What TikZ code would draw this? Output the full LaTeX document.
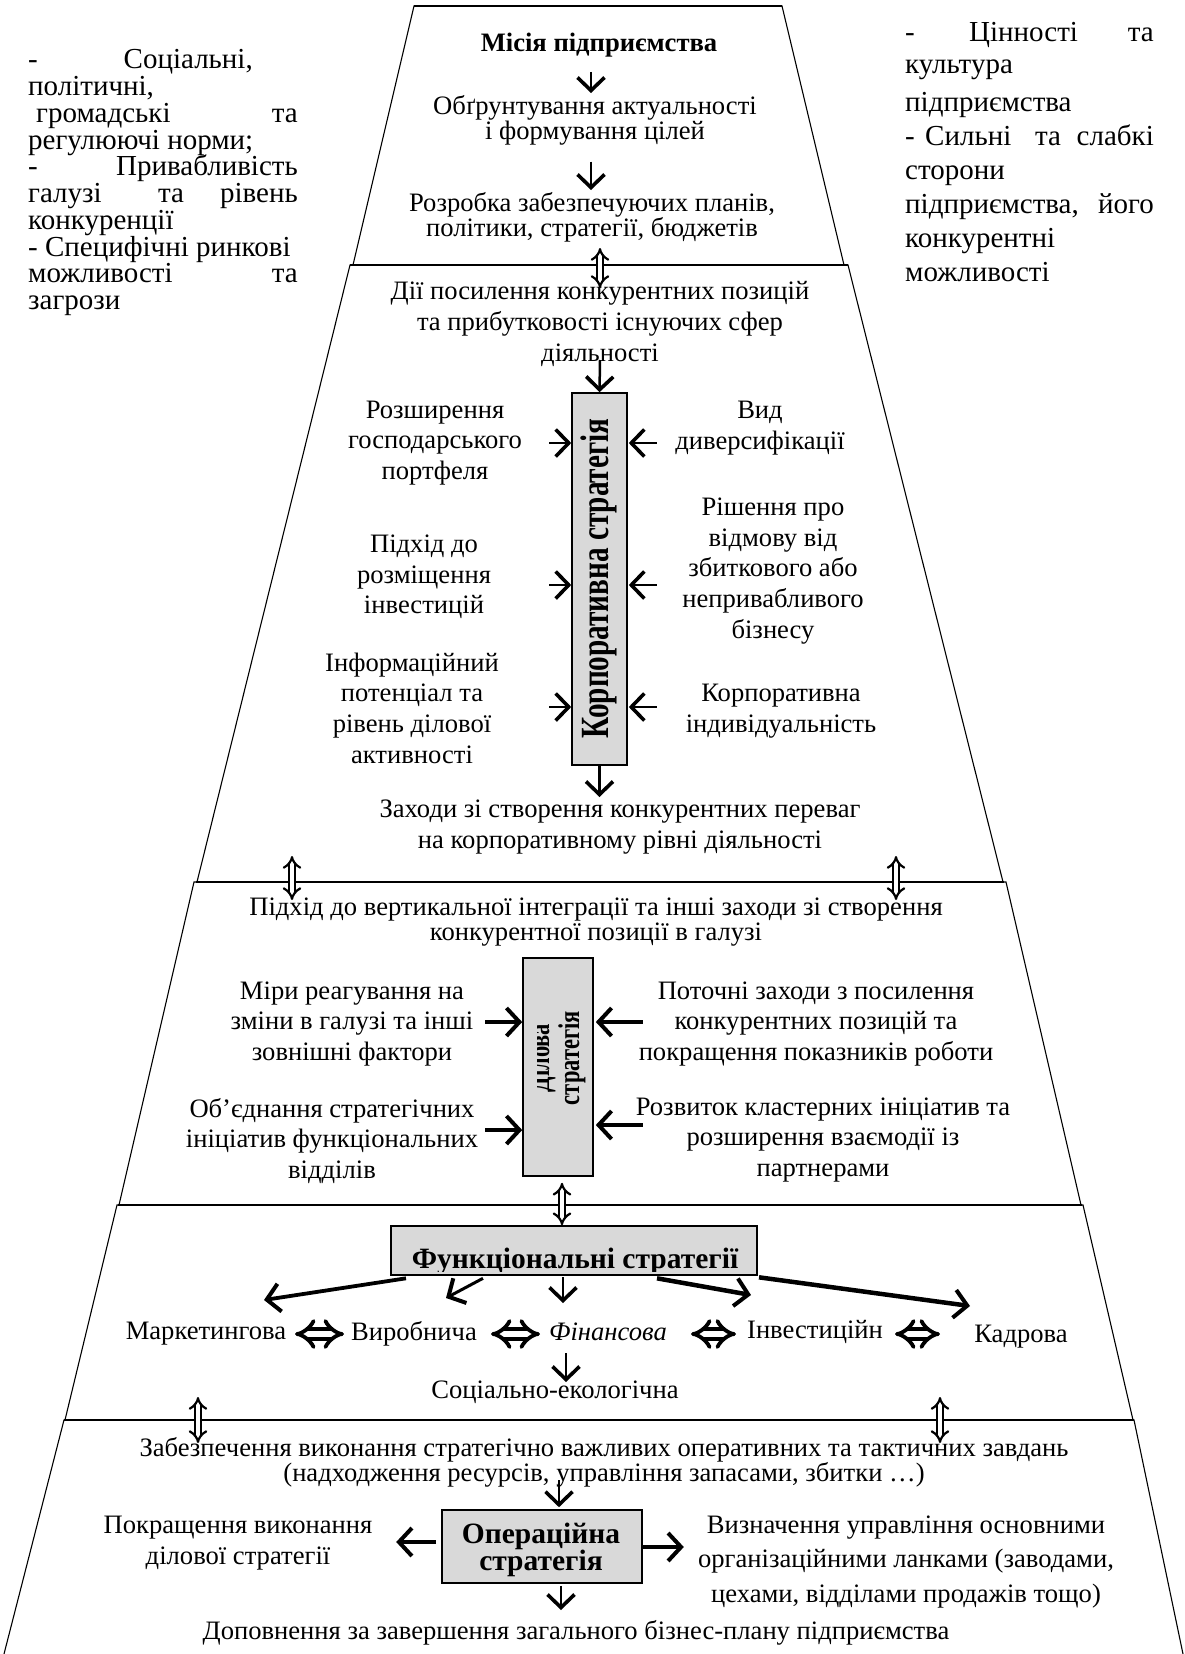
\documentclass[tikz,border=0pt]{standalone}
\usepackage{fontspec}
\usepackage{graphicx}
\setmainfont{Liberation Serif}
\usetikzlibrary{arrows.meta}
\definecolor{boxgray}{HTML}{D9D9D9}
\newcommand\fbody{\fontsize{26.6}{30.7}\selectfont}
\newcommand\fside{\fontsize{29}{29}\selectfont}
\newcommand\fboxbold{\fontsize{29.5}{26}\selectfont\bfseries}
\tikzset{
  t/.style={inner sep=0pt, align=center, font=\fbody},
  sw/.style={inner sep=0pt, text height=20pt, text depth=6pt, font=\fside},
  gbox/.style={draw, fill=boxgray, line width=1.6pt, inner sep=0pt},
  arr/.style={line width=2.5pt, -{Straight Barb[length=13pt,width=27pt,line width=3.6pt]}},
  harr/.style={line width=3.8pt, -{Straight Barb[length=13pt,width=28pt,line width=4pt]}},
  darr/.style={double, double distance=4pt, line width=2.2pt, {Implies[scale=1.15]}-{Implies[scale=1.15]}},
  hdarr/.style={double, double distance=6pt, line width=3.8pt, {Implies}-{Implies}},
  tier/.style={line width=1.1pt},
  bound/.style={line width=2.6pt},
}
\begin{document}
\begin{tikzpicture}[x=1pt, y=-1pt]
\useasboundingbox (0,0) rectangle (1184,1654);
\clip (0,0) rectangle (1184,1654);
% tiers
\draw[tier] (414,6) -- (782,6) -- (844,265) -- (353,265) -- cycle;
\draw[tier] (350,265) -- (848,265) -- (1003,882) -- (197,882) -- cycle;
\draw[tier] (194,882) -- (1006,882) -- (1081,1205) -- (119,1205) -- cycle;
\draw[tier] (117,1205) -- (1083,1205) -- (1133,1420) -- (65,1420) -- cycle;
\draw[tier] (4,1654) -- (64,1420) -- (1134,1420) -- (1183,1654);
\draw[bound] (414,6) -- (782,6);
\draw[bound] (350,265) -- (848,265);
\draw[bound] (196,882) -- (1004,882);
\draw[bound] (118,1205) -- (1082,1205);
\draw[bound] (64,1420) -- (1134,1420);

% left side text
\node[sw, anchor=west] (l1a) at (28,62) {-};
\node[sw, anchor=east] (l1b) at (253,62) {Соціальні,};
\node[sw, anchor=west] (l2) at (28,88.7) {політичні,};
\node[sw, anchor=west] (l3a) at (36,115.4) {громадські};
\node[sw, anchor=east] (l3b) at (298,115.4) {та};
\node[sw, anchor=west] (l4) at (28,142) {регулюючі норми;};
\node[sw, anchor=west] (l5a) at (28,168.8) {-};
\node[sw, anchor=east] (l5b) at (298,168.8) {Привабливість};
\node[sw, anchor=west] (l6a) at (28,195.5) {галузі};
\node[sw, anchor=west] (l6b) at (158,195.5) {та};
\node[sw, anchor=east] (l6c) at (298,195.5) {рівень};
\node[sw, anchor=west] (l7) at (28,222) {конкуренції};
\node[sw, anchor=west] (l8) at (28,249) {- Специфічні ринкові};
\node[sw, anchor=west] (l9a) at (28,275.6) {можливості};
\node[sw, anchor=east] (l9b) at (298,275.6) {та};
\node[sw, anchor=west] (l10) at (28,302) {загрози};

% right side text
\node[sw, anchor=west] (r1a) at (905,35) {-};
\node[sw, anchor=west] (r1b) at (969,35) {Цінності};
\node[sw, anchor=east] (r1c) at (1154,35) {та};
\node[sw, anchor=west] (r2) at (905,67) {культура};
\node[sw, anchor=west] (r3) at (905,104) {підприємства};
\node[sw, anchor=west] (r4a) at (905,138) {-};
\node[sw, anchor=west] (r4b) at (925,138) {Сильні};
\node[sw, anchor=west] (r4c) at (1035,138) {та};
\node[sw, anchor=east] (r4d) at (1154,138) {слабкі};
\node[sw, anchor=west] (r5) at (905,172) {сторони};
\node[sw, anchor=west] (r6a) at (905,206) {підприємства,};
\node[sw, anchor=east] (r6b) at (1154,206) {його};
\node[sw, anchor=west] (r7) at (905,240) {конкурентні};
\node[sw, anchor=west] (r8) at (905,274) {можливості};

% tier 1
\node[t, font=\fbody\bfseries] (mis) at (599,45) {Місія підприємства};
\node[t, font=\fontsize{26.6}{25}\selectfont] (obg) at (595,120.5) {Обґрунтування актуальності\\і формування цілей};
\node[t, font=\fontsize{26.6}{25}\selectfont] (rozr) at (592,217.5) {Розробка забезпечуючих планів,\\політики, стратегії, бюджетів};
\draw[arr] ([xshift=-8pt,yshift=-27pt]mis.center) -- ([xshift=-4pt,yshift=27.5pt]obg.center);
\draw[arr] ([xshift=-4pt,yshift=-41pt]obg.center) -- ([xshift=-1pt,yshift=27.5pt]rozr.center);

% tier 2
\node[t] (dii) at (600,324) {Дії посилення конкурентних позицій\\та прибутковості існуючих сфер\\діяльності};
\draw[darr] ([xshift=8pt,yshift=-30.5pt]rozr.center) -- ([yshift=36pt]dii.center);
\node[gbox, minimum width=55pt, minimum height=372pt] (corp) at (599.5,579) {};
\node[rotate=90, inner sep=0pt, font=\fontsize{40}{40}\selectfont\bfseries] (corptxt) at (599,578.5) {\scalebox{0.73}[1]{Корпоративна стратегія}};
\draw[arr] ([yshift=-36pt]dii.center) -- (corp.north);
\node[t] (rozsh) at (435,443) {Розширення\\господарського\\портфеля};
\node[t] (pidkh) at (424,577) {Підхід до\\розміщення\\інвестицій};
\node[t] (inform) at (412,708) {Інформаційний\\потенціал та\\рівень ділової\\активності};
\node[t] (vyd) at (760,428) {Вид\\диверсифікації};
\node[t] (rish) at (773,571) {Рішення про\\відмову від\\збиткового або\\непривабливого\\бізнесу};
\node[t] (korpind) at (781,711) {Корпоративна\\індивідуальність};
\foreach \dy in {136,-6,-128} {
  \draw[arr] ([xshift=-22pt,yshift=\dy pt]corp.west) -- ([yshift=\dy pt]corp.west);
  \draw[arr] ([xshift=29pt,yshift=\dy pt]corp.east) -- ([xshift=1pt,yshift=\dy pt]corp.east);
}
\node[t] (zakh) at (620,827) {Заходи зі створення конкурентних переваг\\на корпоративному рівні діяльності};
\draw[arr] (corp.south) -- ([xshift=-20.5pt,yshift=30pt]zakh.center);

% tier 3
\node[t, font=\fontsize{26.6}{25}\selectfont] (pidkh2) at (596,922) {Підхід до вертикальної інтеграції та інші заходи зі створення\\конкурентної позиції в галузі};
\draw[darr] ([xshift=-328pt,yshift=-29pt]zakh.center) -- ([xshift=-304pt,yshift=22pt]pidkh2.center);
\draw[darr] ([xshift=276pt,yshift=-29pt]zakh.center) -- ([xshift=300pt,yshift=22pt]pidkh2.center);
\node[gbox, minimum width=70pt, minimum height=218pt] (dil) at (558,1067) {};
\begin{scope}
\clip (537,958) rectangle (593,1176);
\node[rotate=90, inner sep=0pt, align=center, font=\fontsize{30}{30}\selectfont\bfseries] (diltxt) at (557,1058) {\scalebox{0.75}[1]{Ділова}\\\scalebox{0.75}[1]{стратегія}};
\end{scope}
\node[t] (miry) at (352,1024) {Міри реагування на\\зміни в галузі та інші\\зовнішні фактори};
\node[t] (obyed) at (332,1141) {Об’єднання стратегічних\\ініціатив функціональних\\відділів};
\node[t] (potoch) at (816,1024) {Поточні заходи з посилення\\конкурентних позицій та\\покращення показників роботи};
\node[t] (rozv) at (823,1140) {Розвиток кластерних ініціатив та\\розширення взаємодії із\\партнерами};
\draw[harr] ([xshift=-37pt,yshift=45pt]dil.west) -- ([yshift=45pt]dil.west);
\draw[harr] ([xshift=-37pt,yshift=-63pt]dil.west) -- ([yshift=-63pt]dil.west);
\draw[harr] ([xshift=49pt,yshift=45pt]dil.east) -- ([xshift=2pt,yshift=45pt]dil.east);
\draw[harr] ([xshift=49pt,yshift=-58pt]dil.east) -- ([xshift=2pt,yshift=-58pt]dil.east);

% tier 4
\node[gbox, minimum width=366pt, minimum height=49pt] (func) at (574,1250.5) {};
\begin{scope}
\clip (392,1227) rectangle (756,1271);
\node[inner sep=0pt, anchor=base, font=\fboxbold] (functxt) at (575,1268) {Функціональні стратегії};
\end{scope}
\draw[darr] ([xshift=4pt,yshift=-6pt]dil.south) -- ([xshift=-12pt]func.north);
\node[t] (market) at (206,1334) {Маркетингова};
\node[t] (vyrob) at (414,1334) {Виробнича};
\node[t, font=\fbody\itshape] (fin) at (608,1332) {Фінансова};
\node[t] (invest) at (815,1332) {Інвестиційн};
\node[t] (kadr) at (1021,1337) {Кадрова};
\draw[harr] ([xshift=-168pt,yshift=-2.5pt]func.south) -- ([xshift=58pt,yshift=34pt]market.center);
\draw[harr, line width=3pt] ([xshift=-91pt,yshift=-2.5pt]func.south) -- ([xshift=32pt,yshift=36pt]vyrob.center);
\draw[arr] ([xshift=-11pt,yshift=-1.5pt]func.south) -- ([xshift=-45pt,yshift=29pt]fin.center);
\draw[harr, line width=4.5pt] ([xshift=83pt,yshift=-2.5pt]func.south) -- ([xshift=-64pt,yshift=37pt]invest.center);
\draw[harr, line width=4.5pt] ([xshift=185pt,yshift=-1.5pt]func.south) -- ([xshift=-51pt,yshift=31pt]kadr.center);
\draw[hdarr] ([xshift=89pt]market.center) -- ([xshift=-70pt]vyrob.center);
\draw[hdarr] ([xshift=77pt]vyrob.center) -- ([xshift=-68pt,yshift=-2pt]fin.center);
\draw[hdarr] ([xshift=83pt,yshift=-2pt]fin.center) -- ([xshift=-79pt,yshift=-2pt]invest.center);
\draw[hdarr] ([xshift=80pt,yshift=-2pt]invest.center) -- ([xshift=-81pt,yshift=3pt]kadr.center);
\node[t] (soc) at (555,1392) {Соціально-екологічна};
\draw[arr] ([xshift=-42pt,yshift=-21pt]fin.center) -- ([xshift=11pt,yshift=10pt]soc.center);

% tier 5
\node[t, font=\fontsize{26.6}{25}\selectfont] (zab) at (604,1462) {Забезпечення виконання стратегічно важливих оперативних та тактичних завдань\\(надходження ресурсів, управління запасами, збитки …)};
\draw[darr] ([xshift=-357pt,yshift=-5pt]soc.center) -- ([xshift=-406pt,yshift=19pt]zab.center);
\draw[darr] ([xshift=385pt,yshift=-5pt]soc.center) -- ([xshift=336pt,yshift=19pt]zab.center);
\node[gbox, minimum width=200pt, minimum height=73pt] (oper) at (542,1546.5) {};
\node[inner sep=0pt, align=center, font=\fboxbold] (opertxt) at (541,1550) {Операційна\\стратегія};
\draw[arr] ([xshift=-45pt,yshift=-18pt]zab.center) -- ([xshift=17pt,yshift=2pt]oper.north);
\node[t] (pokr) at (238,1543) {Покращення виконання\\ділової стратегії};
\node[t, font=\fontsize{26.6}{34.5}\selectfont] (vyzn) at (906,1562) {Визначення управління основними\\організаційними ланками (заводами,\\цехами, відділами продажів тощо)};
\draw[harr] ([xshift=-5pt,yshift=4.5pt]oper.west) -- ([xshift=-45pt,yshift=4.5pt]oper.west);
\draw[harr] ([yshift=-0.5pt]oper.east) -- ([xshift=41pt,yshift=-0.5pt]oper.east);
\node[t] (dop) at (576,1633) {Доповнення за завершення загального бізнес-плану підприємства};
\draw[arr] ([xshift=19pt,yshift=-2pt]oper.south) -- ([xshift=-15pt,yshift=23pt]dop.center);
\end{tikzpicture}
\end{document}
